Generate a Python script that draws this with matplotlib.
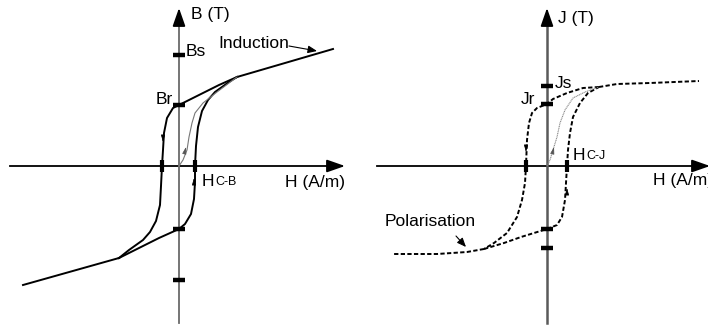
import numpy as np
import matplotlib
matplotlib.use("Agg")
import matplotlib.pyplot as plt

plt.rcParams['font.family'] = ['Liberation Sans', 'DejaVu Sans']

# ---- induction loop B(H), arbitrary units (left panel) ----
b_desc_h = [58, 40, 20, 0, -6, -12, -15, -16, -17, -18, -19, -23, -29, -36, -43, -50, -60]
b_desc_b = [89, 81, 71, 61, 58, 48, 33, 16, 0, -20, -39, -55, -66, -74, -79, -84, -92]
b_asc_h = [-60, -40, -20, 0, 6, 12, 15, 16, 16, 17, 19, 23, 29, 36, 43, 50, 58]
b_asc_b = [-92, -82, -72, -63, -58, -48, -33, -16, 0, 20, 39, 55, 66, 74, 79, 84, 89]
b_init_h = [0, 4, 8, 10, 13, 16, 24, 38, 58]
b_init_b = [0, 6, 16, 29, 43, 53, 63, 74, 89]
b_sat_up_h, b_sat_up_b = [58, 154], [89, 117]
b_sat_lo_h, b_sat_lo_b = [-60, -156], [-92, -119]
b_ticks = [111, 61, -63, -114]      # Bs, Br, -Br, -Bs
hc_b = [-17, 16]

# ---- polarisation loop J(H) (right panel) ----
j_desc_h = [52, 36, 20, 6, 0, -10, -15, -18, -20, -21, -22, -25, -30, -40, -53, -63]
j_desc_j = [79, 78, 73, 67, 62, 58, 53, 43, 26, 0, -17, -34, -51, -67, -77, -83]
j_asc_h = [-63, -43, -26, 0, 10, 15, 18, 19, 20, 21, 23, 26, 33, 41, 52]
j_asc_j = [-83, -77, -71, -63, -59, -51, -34, -17, 0, 16, 33, 49, 63, 73, 79]
j_init_h = [0, 3, 6, 10, 13, 18, 26, 38, 52]
j_init_j = [0, 6, 16, 29, 43, 56, 68, 74, 79]
j_sat_up_h, j_sat_up_j = [52, 70, 103, 152], [79, 82, 83, 85]
j_sat_lo_h, j_sat_lo_j = [-63, -80, -110, -153], [-83, -86, -88, -88]
j_ticks = [80, 62, -63, -82]        # Js, Jr, -Jr, -Js
hc_j = [-21, 20]

fig = plt.figure(figsize=(7.08, 3.25), dpi=100)
axL = fig.add_axes([0, 0, 0.5, 1])
axR = fig.add_axes([0.5, 0, 0.5, 1])
axL.set_xlim(-179, 175)
axL.set_ylim(-159, 166)
axR.set_xlim(-193, 161)
axR.set_ylim(-159, 166)
for ax in (axL, axR):
    ax.axis('off')

head = '-|>,head_length=1.0,head_width=0.35'


def axes_arrows(ax, xmin, xmax, ymin, ymax, vcol, vlw):
    ax.plot([xmin, xmax - 8], [0, 0], color='black', lw=1.3, clip_on=False)
    ax.annotate('', xy=(xmax, 0), xytext=(xmax - 9, 0), annotation_clip=False,
                arrowprops=dict(arrowstyle=head, color='black', lw=1.3,
                                mutation_scale=11, shrinkA=0, shrinkB=0))
    ax.plot([0, 0], [ymin, ymax - 8], color=vcol, lw=vlw)
    ax.annotate('', xy=(0, ymax), xytext=(0, ymax - 9), annotation_clip=False,
                arrowprops=dict(arrowstyle=head, color='black', lw=1.3,
                                mutation_scale=11, shrinkA=0, shrinkB=0))


def small_arrow(ax, x, y, dx, dy, col='black'):
    ax.annotate('', xy=(x + dx, y + dy), xytext=(x, y),
                arrowprops=dict(arrowstyle='-|>,head_length=0.7,head_width=0.2',
                                color=col, lw=0.5, mutation_scale=6, shrinkA=0, shrinkB=0))


# left panel
axes_arrows(axL, -169, 166, -157, 158, '#6a6a6a', 1.3)
axL.plot(b_desc_h, b_desc_b, color='black', lw=1.4)
axL.plot(b_asc_h, b_asc_b, color='black', lw=1.4)
axL.plot(b_sat_up_h, b_sat_up_b, color='black', lw=1.4)
axL.plot(b_sat_lo_h, b_sat_lo_b, color='black', lw=1.4)
axL.plot(b_init_h, b_init_b, color='#777777', lw=0.8)
axL.plot(np.zeros(len(b_ticks)), b_ticks, ls='none', marker='_', ms=8, mew=3.2, color='black')
axL.plot(hc_b, np.zeros(len(hc_b)), ls='none', marker='|', ms=8, mew=3, color='black')
small_arrow(axL, -16, 28, 0, -4)
small_arrow(axL, 15, -16, 0, 4)
small_arrow(axL, 6, 15, 1, 4, '#555555')

fs = 12.5
axL.text(12, 151, 'B (T)', fontsize=fs, va='center')
axL.text(7, 114, 'Bs', fontsize=fs, va='center')
axL.text(-6, 66, 'Br', fontsize=fs, va='center', ha='right')
axL.text(39, 122, 'Induction', fontsize=fs, va='center')
axL.annotate('', xy=(138, 115), xytext=(110, 120),
             arrowprops=dict(arrowstyle='-|>,head_length=0.6,head_width=0.25',
                             color='black', lw=0.8, mutation_scale=9, shrinkA=0, shrinkB=0))
axL.text(23, -15, 'H', fontsize=fs, va='center')
axL.annotate('C-B', xy=(23, -15), xytext=(9.8, -0.5), textcoords='offset points',
             fontsize=9, va='center')
axL.text(106, -16, 'H (A/m)', fontsize=fs, va='center')

# right panel
axes_arrows(axR, -170, 163, -157, 158, '#5a5a5a', 1.8)
dash = dict(color='black', lw=1.4, ls=(0, (2.2, 1.2)))
axR.plot(j_desc_h, j_desc_j, **dash)
axR.plot(j_asc_h, j_asc_j, **dash)
axR.plot(j_sat_up_h, j_sat_up_j, **dash)
axR.plot(j_sat_lo_h, j_sat_lo_j, **dash)
axR.plot(j_init_h, j_init_j, color='#888888', lw=0.8, ls=(0, (1, 0.6)))
axR.plot(np.zeros(len(j_ticks)), j_ticks, ls='none', marker='_', ms=8, mew=3.2, color='black')
axR.plot(hc_j, np.zeros(len(hc_j)), ls='none', marker='|', ms=8, mew=3, color='black')
small_arrow(axR, -21, 18, 0, -4)
small_arrow(axR, 20, -26, 0, 4)
small_arrow(axR, 6, 15, 1, 4, '#555555')

axR.text(11, 148, 'J (T)', fontsize=fs, va='center')
axR.text(8, 83, 'Js', fontsize=fs, va='center')
axR.text(-12, 66, 'Jr', fontsize=fs, va='center', ha='right')
axR.text(26, 11, 'H', fontsize=fs, va='center')
axR.annotate('C-J', xy=(26, 11), xytext=(9.8, -0.5), textcoords='offset points',
             fontsize=9, va='center')
axR.text(106, -14, 'H (A/m)', fontsize=fs, va='center', clip_on=False)
axR.text(-162, -55, 'Polarisation', fontsize=fs, va='center')
axR.annotate('', xy=(-81, -81), xytext=(-91, -70),
             arrowprops=dict(arrowstyle='-|>,head_length=0.6,head_width=0.25',
                             color='black', lw=0.8, mutation_scale=9, shrinkA=0, shrinkB=0))

fig.savefig('out.png', dpi=100)
